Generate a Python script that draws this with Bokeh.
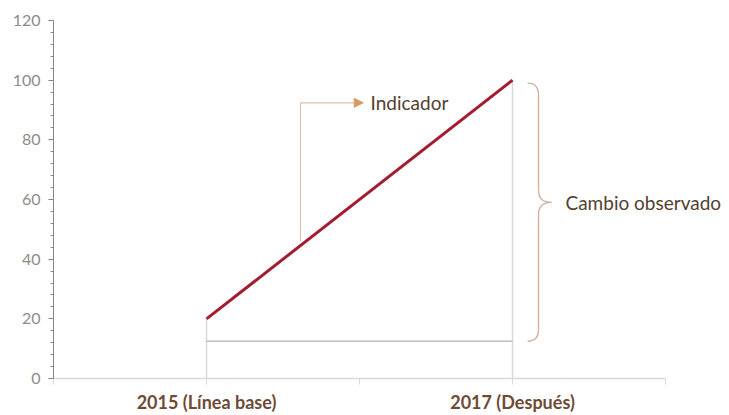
from bokeh.plotting import figure
from bokeh.models import (Range1d, FixedTicker, SingleIntervalTicker, Label,
                          Arrow, NormalHead)
from bokeh.embed import file_html
from bokeh.resources import INLINE

# ---- data ----
categories = ["2015 (Línea base)", "2017 (Después)"]
indicator = [20, 100]          # red indicator line
reference_level = [12.5, 12.5]  # grey horizontal reference line
y_ticks_interval = 20

xs = list(range(len(categories)))

BG = "white"
FONT = "Lato"

p = figure(width=729, height=415, output_backend="svg", toolbar_location=None,
           x_range=Range1d(-0.5, 1.709), y_range=Range1d(0, 120),
           min_border_left=53, min_border_right=0, min_border_top=20,
           min_border_bottom=34, background_fill_color=BG,
           border_fill_color=BG, outline_line_color=None)
p.xgrid.visible = False
p.ygrid.visible = False

# drop lines to the axis
p.segment(x0=xs, y0=[0, 0], x1=xs, y1=indicator, line_color="#d9d9d9",
          line_width=1.5)
# reference horizontal line
p.line(xs, reference_level, line_color="#bfbfbf", line_width=1.5)
# indicator line
p.line(xs, indicator, line_color="#a31c2f", line_width=3)

# Indicador connector
cx = 0.307
cy_top = 92.4
p.line([cx, cx], [46, cy_top], line_color="#d6c2b2", line_width=1.2)
p.add_layout(Arrow(end=NormalHead(size=9, fill_color="#d69a63",
                                  line_color="#d69a63"),
                   x_start=cx, y_start=cy_top, x_end=0.512, y_end=cy_top,
                   line_color="#d6c2b2", line_width=1.2))
p.add_layout(Label(x=0.536, y=cy_top, text="Indicador", text_baseline="middle",
                   text_font=FONT, text_font_size="19px",
                   text_color="#54402f"))

# brace "Cambio observado"
top = indicator[1] - 1
bot = reference_level[1]
mid = (top + bot) / 2 + 3.3
bx_end, bx_v, bx_tip = 1.049, 1.085, 1.127
r = 4.0
bcol = "#cdb3a0"
p.quadratic(x0=[bx_end, bx_v, bx_tip, bx_v],
            y0=[top, mid + r, mid, bot + r],
            x1=[bx_v, bx_tip, bx_v, bx_end],
            y1=[top - r, mid, mid - r, bot],
            cx=[bx_v, bx_v, bx_v, bx_v],
            cy=[top, mid, mid, bot],
            line_color=bcol, line_width=1.4)
p.segment(x0=[bx_v, bx_v], y0=[top - r, mid - r], x1=[bx_v, bx_v],
          y1=[mid + r, bot + r], line_color=bcol, line_width=1.4)
p.add_layout(Label(x=1.173, y=mid, text="Cambio observado",
                   text_baseline="middle", text_font=FONT,
                   text_font_size="19px", text_color="#54402f"))

# ---- x axis ----
xa = p.xaxis[0]
xa.ticker = FixedTicker(ticks=xs, minor_ticks=[-0.5, 0.5, 1.5])
xa.major_label_overrides = {i: c for i, c in enumerate(categories)}
xa.bounds = (-0.5, 1.5)
xa.axis_line_color = "#d9d9d9"
xa.axis_line_width = 1.5
xa.major_tick_line_color = "#d9d9d9"
xa.minor_tick_line_color = "#d9d9d9"
xa.major_tick_out = 6
xa.major_tick_in = 0
xa.minor_tick_out = 6
xa.minor_tick_in = 0
xa.major_label_standoff = 6
xa.major_label_text_font = FONT
xa.major_label_text_font_style = "bold"
xa.major_label_text_font_size = "18px"
xa.major_label_text_color = "#6e4b36"

# ---- y axis ----
ya = p.yaxis[0]
ya.ticker = SingleIntervalTicker(interval=y_ticks_interval, num_minor_ticks=5)
ya.bounds = (0, 120)
ya.axis_line_color = "#868686"
ya.major_tick_line_color = "#868686"
ya.minor_tick_line_color = "#868686"
ya.major_tick_out = 5
ya.major_tick_in = 0
ya.minor_tick_out = 3
ya.minor_tick_in = 0
ya.major_label_standoff = 8
ya.major_label_text_font = FONT
ya.major_label_text_font_size = "16px"
ya.major_label_text_color = "#8c8c8c"

open("out.html", "w").write(file_html(p, INLINE))
